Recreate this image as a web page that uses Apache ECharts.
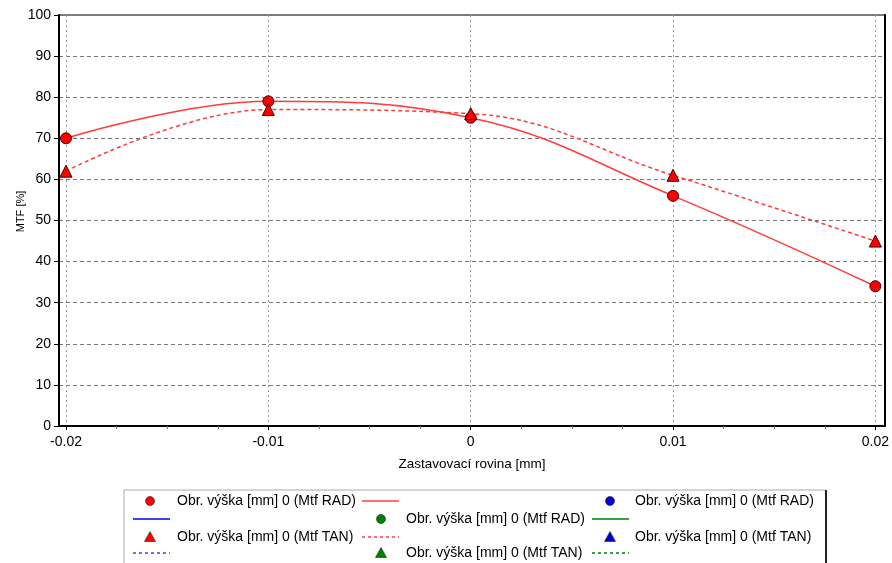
<!DOCTYPE html>
<html>
<head>
<meta charset="utf-8">
<script src="https://cdn.jsdelivr.net/npm/echarts@6/dist/echarts.min.js"></script>
<style>
html,body{margin:0;padding:0;background:#fff;}
#chart{width:892px;height:563px;}
</style>
</head>
<body>
<div id="chart"></div>
<script>
// ---- data ----
const xValues = [-0.02, -0.01, 0, 0.01, 0.02];
const radValues = [70, 79, 75, 56, 34];
const tanValues = [62, 77, 76, 61, 45];
const xAxisTitle = 'Zastavovací rovina [mm]';
const yAxisTitle = 'MTF [%]';
const seriesNames = ['Obr. výška [mm] 0 (Mtf RAD)', 'Obr. výška [mm] 0 (Mtf TAN)'];

const FONT = '"Liberation Sans", Arial, sans-serif';
const chart = echarts.init(document.getElementById('chart'), null, {renderer: 'canvas'});

const radData = xValues.map((x, i) => [x, radValues[i]]);
const tanData = xValues.map((x, i) => [x, tanValues[i]]);

// legend layout (graphic)
function legendSymbol(kind, cx, cy, color) {
  if (kind === 'circle') {
    return {type: 'circle', shape: {cx: cx, cy: cy, r: 4.5}, style: {fill: color, stroke: '#222', lineWidth: 0.6}};
  }
  return {type: 'polygon', shape: {points: [[cx, cy - 5.5], [cx + 5.5, cy + 4.5], [cx - 5.5, cy + 4.5]]}, style: {fill: color, stroke: '#222', lineWidth: 0.6}};
}
function legendText(x, y, t) {
  return {type: 'text', x: x, y: y, style: {text: t, font: '14px ' + FONT, fill: '#000', verticalAlign: 'middle'}};
}
function legendLine(x1, x2, y, color, dashed) {
  return {type: 'line', shape: {x1: x1, y1: y, x2: x2, y2: y}, style: {stroke: color, lineWidth: 1.3, lineDash: dashed ? [3, 3] : null}};
}
const RED = '#ff0000', BLUE = '#0000dd', GREEN = '#008000';
const rows = [501, 519, 537, 553];
const legendEls = [
  {type: 'rect', shape: {x: 124, y: 490, width: 702, height: 90}, style: {fill: '#fff', stroke: '#aaa', lineWidth: 1}},
  {type: 'line', shape: {x1: 826, y1: 490, x2: 826, y2: 563}, style: {stroke: '#222', lineWidth: 2}},
  legendSymbol('circle', 150, rows[0], RED), legendText(177, rows[0], seriesNames[0]), legendLine(362, 399, rows[0], '#ff4040', false),
  legendSymbol('circle', 610, rows[0], BLUE), legendText(635, rows[0], seriesNames[0]),
  legendLine(133, 170, rows[1], BLUE, false),
  legendSymbol('circle', 381, rows[1], GREEN), legendText(406, rows[1], seriesNames[0]), legendLine(592, 629, rows[1], GREEN, false),
  legendSymbol('triangle', 150, rows[2], RED), legendText(177, rows[2], seriesNames[1]), legendLine(362, 399, rows[2], '#ff4040', true),
  legendSymbol('triangle', 610, rows[2], BLUE), legendText(635, rows[2], seriesNames[1]),
  legendLine(133, 170, rows[3], '#4040ff', true),
  legendSymbol('triangle', 381, rows[3], GREEN), legendText(406, rows[3], seriesNames[1]), legendLine(592, 629, rows[3], GREEN, true)
];

const option = {
  backgroundColor: '#fff',
  animation: false,
  textStyle: {fontFamily: FONT},
  grid: [
    {left: 59, right: 7, top: 15, bottom: 137, show: true, borderColor: '#000', borderWidth: 1, backgroundColor: 'transparent'},
    {left: 66, right: 14, top: 15, bottom: 137}
  ],
  xAxis: [
    {
      gridIndex: 0, type: 'value', min: 0, max: 1,
      axisLine: {show: true, onZero: false, lineStyle: {color: '#000', width: 2}},
      axisTick: {show: false}, axisLabel: {show: false}, splitLine: {show: false},
      name: xAxisTitle, nameLocation: 'middle', nameGap: 31, nameMoveOverlap: false,
      nameTextStyle: {fontSize: 13.5, color: '#000', fontFamily: FONT}
    },
    {
      gridIndex: 1, type: 'value', min: -0.02, max: 0.02, interval: 0.01,
      axisLine: {show: false, onZero: false},
      axisTick: {show: true, length: 4, lineStyle: {color: '#000'}},
      minorTick: {show: true, splitNumber: 4, length: 3, lineStyle: {color: '#777'}},
      axisLabel: {show: true, margin: 9, fontSize: 14, color: '#000', fontFamily: FONT,
        formatter: v => String(parseFloat(Number(v).toFixed(3)))},
      splitLine: {show: true, lineStyle: {color: '#999', type: [2, 3], width: 1}}
    }
  ],
  yAxis: [
    {
      gridIndex: 0, type: 'value', min: 0, max: 100, interval: 10,
      axisLine: {show: true, onZero: false, lineStyle: {color: '#000', width: 2}},
      axisTick: {show: true, length: 5, lineStyle: {color: '#000'}},
      axisLabel: {show: true, margin: 8, fontSize: 14, color: '#000', fontFamily: FONT},
      splitLine: {show: true, lineStyle: {color: '#777', type: [4, 3], width: 1}},
      name: yAxisTitle, nameLocation: 'middle', nameGap: 33, nameRotate: 90, nameMoveOverlap: false,
      nameTextStyle: {fontSize: 11, color: '#000', fontFamily: FONT, padding: [0, 0, 0, 18]}
    },
    {
      gridIndex: 0, type: 'value', min: 0, max: 100, position: 'right',
      axisLine: {show: true, onZero: false, lineStyle: {color: '#000', width: 2}},
      axisTick: {show: false}, axisLabel: {show: false}, splitLine: {show: false}
    },
    {gridIndex: 1, type: 'value', min: 0, max: 100, show: false}
  ],
  series: [
    {
      name: seriesNames[0], type: 'line', xAxisIndex: 1, yAxisIndex: 2,
      data: radData, smooth: 0.4, symbol: 'circle', symbolSize: 11,
      itemStyle: {color: '#ff0000', borderColor: '#400', borderWidth: 1},
      lineStyle: {color: '#ff3b3b', width: 1.5}, z: 3
    },
    {
      name: seriesNames[1], type: 'line', xAxisIndex: 1, yAxisIndex: 2,
      data: tanData, smooth: 0.4, symbol: 'triangle', symbolSize: 12,
      itemStyle: {color: '#ff0000', borderColor: '#400', borderWidth: 1},
      lineStyle: {color: '#ff3b3b', width: 1.5, type: [4, 3]}, z: 4
    }
  ],
  graphic: legendEls
};
chart.setOption(option);
</script>
</body>
</html>
